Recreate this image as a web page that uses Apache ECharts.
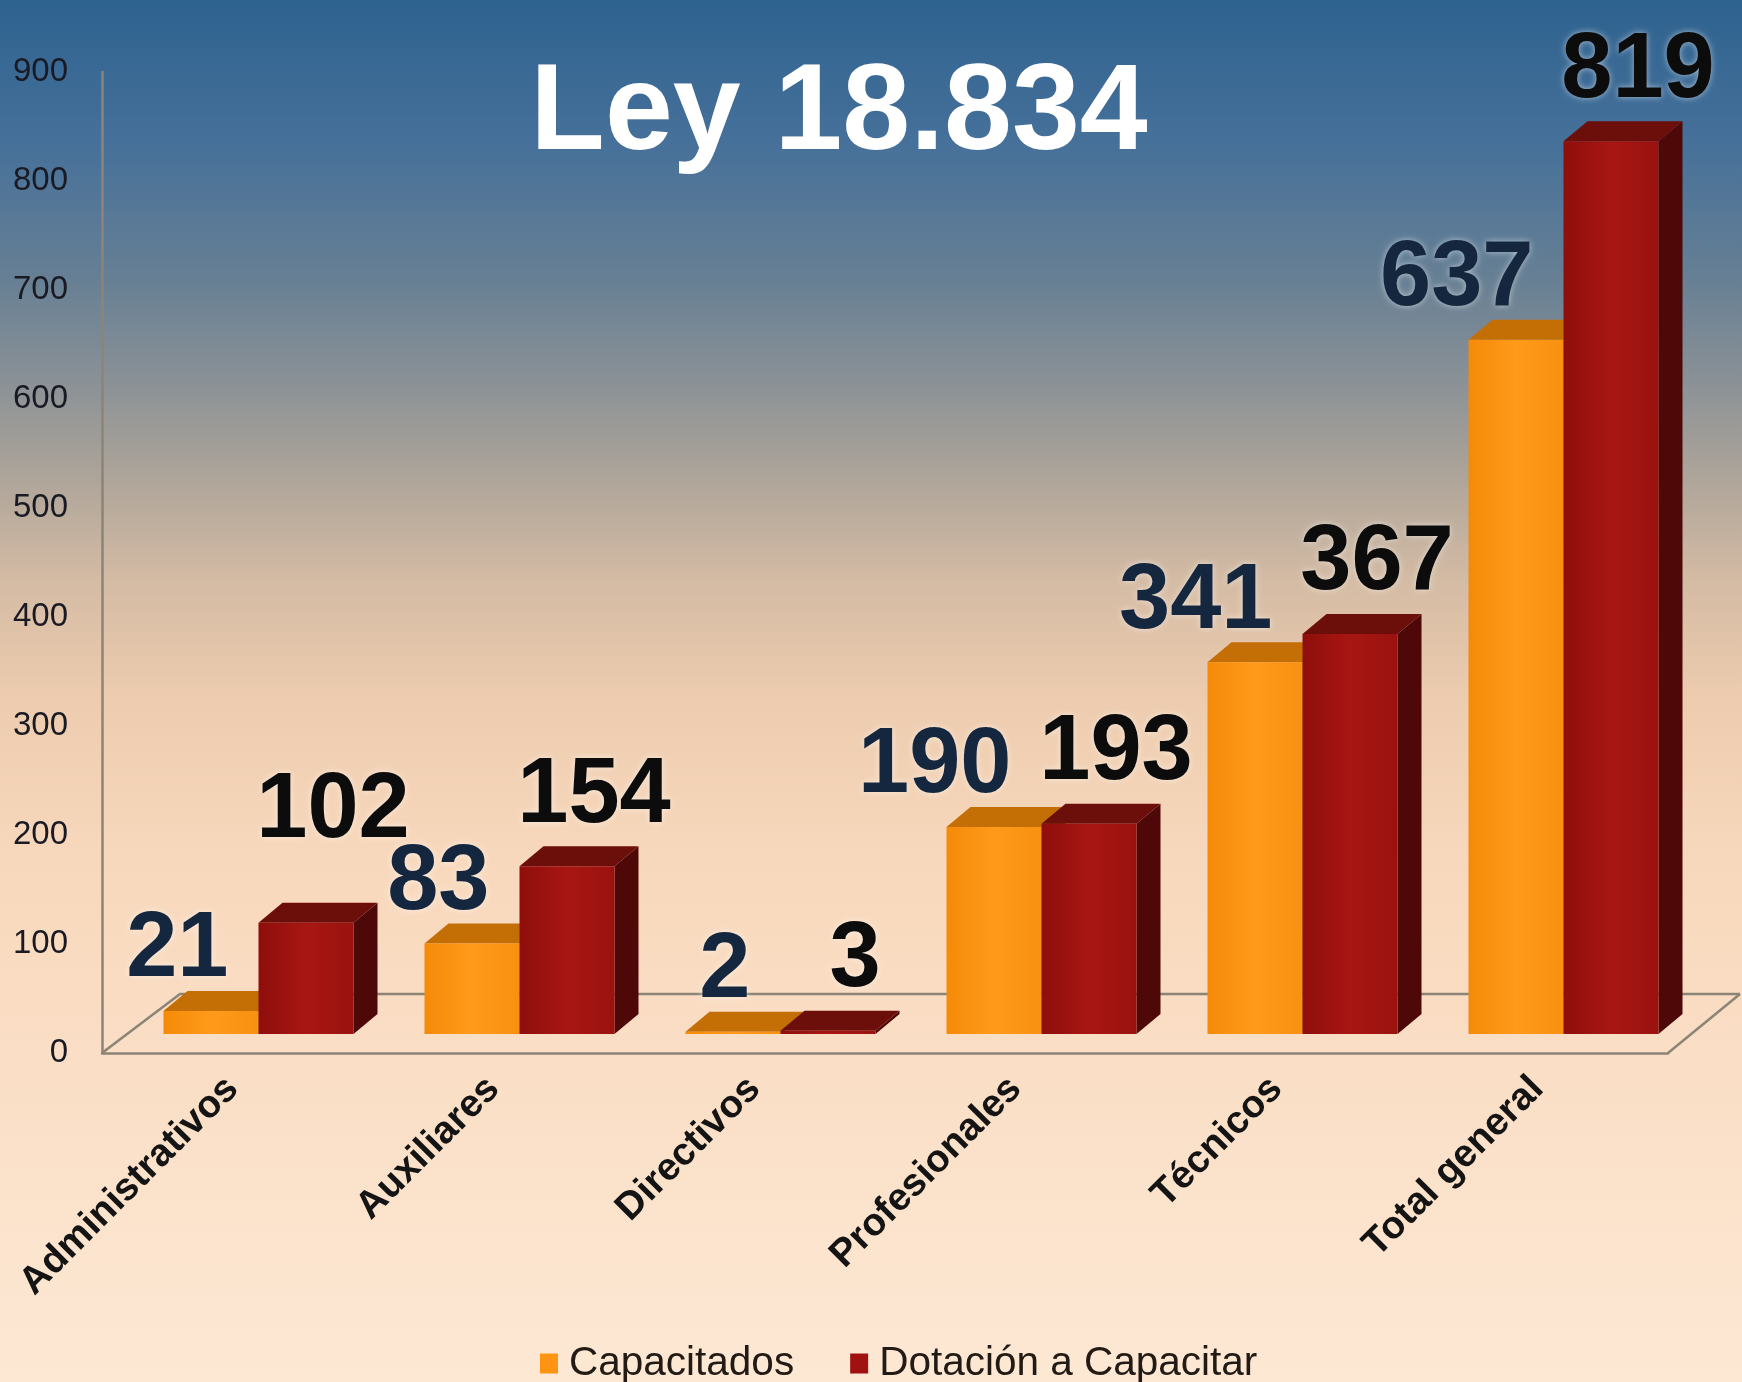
<!DOCTYPE html>
<html>
<head>
<meta charset="utf-8">
<script src="https://cdn.jsdelivr.net/npm/echarts@6/dist/echarts.min.js"></script>
<style>html,body{margin:0;padding:0;background:#fde7d3;}#c{width:1742px;height:1382px;}</style>
</head>
<body>
<div id="c"></div>
<script>
const categories = ['Administrativos', 'Auxiliares', 'Directivos', 'Profesionales', 'Técnicos', 'Total general'];
const capacitados = [21, 83, 2, 190, 341, 637];
const dotacion = [102, 154, 3, 193, 367, 819];
const seriesNames = ['Capacitados', 'Dotación a Capacitar'];
const titleText = 'Ley 18.834';

const W = 1742, H = 1382;
const GRID = { left: 102, right: 74, top: 72, bottom: 329 };
const FRONT = [26, -19];   // offset of bar front plane from axis plane
const DEPTH = [24, -20];   // bar depth
const FLOOR = [78, -59];   // floor depth
const BAR_FRAC = 0.364;
const LABEL_FS = 92;
const LABEL_H = LABEL_FS * 0.72;

const palettes = [
  { front: ['#f58a08', '#ff9a1a', '#f89010'], top: '#c46e06', side: '#9a5200', label: '#15273f' },
  { front: ['#8e0e0c', '#a81612', '#9a120f'], top: '#6c0e0a', side: '#4e0807', label: '#0c0c0c' }
];

function textW(v) { return String(v).length * 0.556 * LABEL_FS; }

// label box for series si at category i (computed through the axes)
function labelBox(si, i, val, api) {
  const base = api.coord([i, 0]);
  const top = api.coord([i, val]);
  const w = textW(val);
  const frontX = base[0] + FRONT[0];
  const bw = api.size([1, 0])[0] * BAR_FRAC;
  const yT = top[1] + FRONT[1];
  let cx, cy;
  if (si === 0) { cx = frontX - 30 - w / 2; cy = yT - 60; }
  else { cx = frontX + bw / 2 + 27; cy = yT - 70; }
  return { cx: cx, cy: cy, l: cx - w / 2, r: cx + w / 2, t: cy - LABEL_H / 2, b: cy + LABEL_H / 2 };
}

function makeRender(si) {
  const p = palettes[si];
  return function (params, api) {
    const cat = api.value(0), val = api.value(1);
    const base = api.coord([cat, 0]);
    const top = api.coord([cat, val]);
    const band = api.size([1, 0])[0];
    const bw = band * BAR_FRAC;
    const xL = base[0] + FRONT[0] + (si === 0 ? -bw : 0);
    const yT = top[1] + FRONT[1];
    const yB = base[1] + FRONT[1];
    const children = [];
    children.push({
      type: 'polygon',
      shape: { points: [[xL + bw, yT], [xL + bw + DEPTH[0], yT + DEPTH[1]], [xL + bw + DEPTH[0], yB + DEPTH[1]], [xL + bw, yB]] },
      style: { fill: p.side }
    });
    children.push({
      type: 'polygon',
      shape: { points: [[xL, yT], [xL + bw, yT], [xL + bw + DEPTH[0], yT + DEPTH[1]], [xL + DEPTH[0], yT + DEPTH[1]]] },
      style: { fill: p.top }
    });
    children.push({
      type: 'rect',
      shape: { x: xL, y: yT, width: bw, height: Math.max(yB - yT, 0) },
      style: {
        fill: new echarts.graphic.LinearGradient(0, 0, 1, 0, [
          { offset: 0, color: p.front[0] }, { offset: 0.5, color: p.front[1] }, { offset: 1, color: p.front[2] }
        ])
      }
    });
    const box = labelBox(si, cat, val, api);
    if (si === 1 && cat + 1 < capacitados.length) {
      const nb = labelBox(0, cat + 1, capacitados[cat + 1], api);
      if (box.r > nb.l && box.b > nb.t && box.t < nb.b) {
        box.cy -= (box.b - nb.t + 6);
      }
    }
    children.push({
      type: 'text',
      z2: 100,
      x: box.cx,
      y: box.cy,
      style: {
        text: String(val),
        fill: p.label,
        fontSize: LABEL_FS,
        fontWeight: 'bold',
        fontFamily: '"Liberation Sans", Arial, sans-serif',
        align: 'center',
        verticalAlign: 'middle',
        textShadowColor: 'rgba(255,255,255,0.55)',
        textShadowBlur: 6
      }
    });
    return { type: 'group', children: children };
  };
}

const chart = echarts.init(document.getElementById('c'), null, { renderer: 'canvas', width: W, height: H });

const fx0 = GRID.left, fx1 = W - GRID.right, fy = H - GRID.bottom;
const lineStyle = { stroke: '#8c8476', lineWidth: 2.5 };

const option = {
  animation: false,
  graphic: [
    {
      type: 'rect', z: -10, silent: true,
      shape: { x: 0, y: 0, width: W, height: H },
      style: {
        fill: new echarts.graphic.LinearGradient(0, 0, 0, 1, [
          { offset: 0, color: '#2e628f' },
          { offset: 0.1, color: '#45709a' },
          { offset: 0.2, color: '#667f94' },
          { offset: 0.28, color: '#8c9296' },
          { offset: 0.35, color: '#b0a69a' },
          { offset: 0.42, color: '#d4bba4' },
          { offset: 0.5, color: '#eccbae' },
          { offset: 0.62, color: '#f8d8bc' },
          { offset: 1, color: '#fde8d4' }
        ])
      }
    },
    { type: 'polyline', z: 1, silent: true, shape: { points: [[fx0, fy], [fx0 + FLOOR[0], fy + FLOOR[1]], [fx1 + FLOOR[0] - 6, fy + FLOOR[1]]] }, style: lineStyle },
    { type: 'polyline', z: 1, silent: true, shape: { points: [[fx1, fy], [fx1 + FLOOR[0] - 6, fy + FLOOR[1]]] }, style: lineStyle },
    {
      type: 'text', z: 5, x: 839, y: 115,
      style: {
        text: titleText, fill: '#ffffff', fontSize: 122, fontWeight: 'bold',
        fontFamily: '"Liberation Sans", Arial, sans-serif', align: 'center', verticalAlign: 'middle'
      }
    }
  ],
  grid: { left: GRID.left, right: GRID.right, top: GRID.top, bottom: GRID.bottom, containLabel: false },
  legend: {
    data: seriesNames,
    left: 535, top: 1338,
    icon: 'rect', itemWidth: 18, itemHeight: 20, itemGap: 56,
    textStyle: { fontSize: 40.5, color: '#221a14', fontFamily: '"Liberation Sans", Arial, sans-serif', padding: [0, 0, 0, 6] }
  },
  xAxis: {
    type: 'category', data: categories, boundaryGap: true,
    axisTick: { show: false },
    axisLine: { show: true, lineStyle: { color: '#8c8476', width: 2.5 } },
    axisLabel: {
      rotate: 45, fontSize: 38.5, fontWeight: 'bold', color: '#141414', margin: 30,
      fontFamily: '"Liberation Sans", Arial, sans-serif'
    }
  },
  yAxis: {
    type: 'value', min: 0, max: 900, interval: 100,
    splitLine: { show: false },
    axisTick: { show: false },
    axisLine: { show: true, lineStyle: { color: '#8c8476', width: 2.5 } },
    axisLabel: { fontSize: 33, color: '#1a1a24', margin: 34, fontFamily: '"Liberation Sans", Arial, sans-serif' }
  },
  series: [
    {
      name: seriesNames[0], type: 'custom', renderItem: makeRender(0),
      itemStyle: { color: '#ff9412' },
      encode: { x: 0, y: 1 },
      data: capacitados.map((v, i) => [i, v])
    },
    {
      name: seriesNames[1], type: 'custom', renderItem: makeRender(1),
      itemStyle: { color: '#a01210' },
      encode: { x: 0, y: 1 },
      data: dotacion.map((v, i) => [i, v])
    }
  ]
};
chart.setOption(option);
</script>
</body>
</html>
